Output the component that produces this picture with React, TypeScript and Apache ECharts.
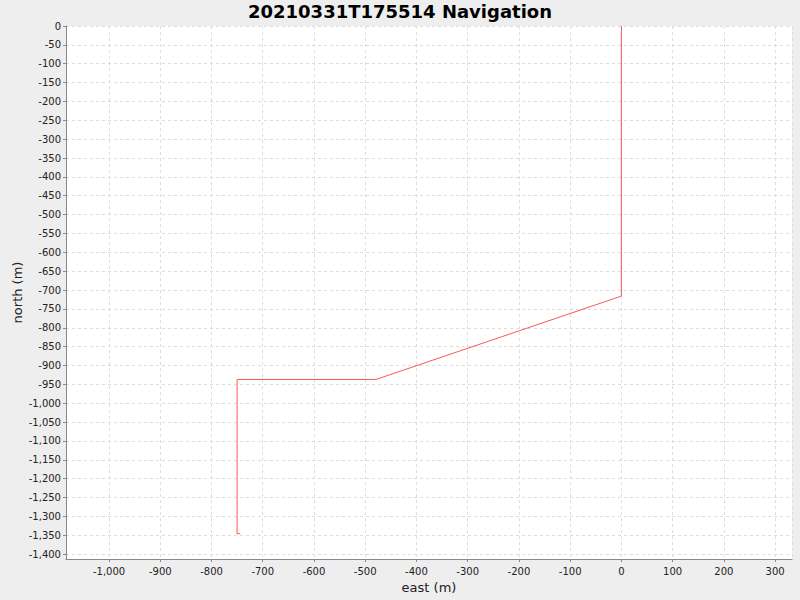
import React, { useEffect, useRef } from "react";
import * as echarts from "echarts";

const titleText = "20210331T175514 Navigation";
const eastValues: number[] = [0, 0, -479, -750, -750, -744];
const northValues: number[] = [0, -716, -937, -937, -1346, -1346];
const xRange = [-1084, 333];
const yRange = [-1413, 0];

const fmt = (v: number) => {
  if (Math.abs(v - Math.round(v)) > 1e-6) return "";
  return Math.round(v).toLocaleString("en-US");
};

export default function App() {
  const ref = useRef<HTMLDivElement>(null);
  useEffect(() => {
    document.body.style.margin = "0";
    const chart = echarts.init(ref.current!, null, { renderer: "svg" });
    const data = eastValues.map((x, i) => [x, northValues[i]]);
    const font = "DejaVu Sans";
    chart.setOption({
      animation: false,
      backgroundColor: "#EEEEEE",
      title: {
        text: titleText,
        left: "center",
        top: 2,
        padding: 0,
        textStyle: { fontFamily: font, fontWeight: "bold", fontSize: 18, color: "#000" },
      },
      grid: {
        left: 66, top: 26, right: 8, bottom: 41, show: true, backgroundColor: "#fff", borderWidth: 0,
        containLabel: false, outerBoundsMode: "none",
      },
      xAxis: {
        type: "value",
        min: xRange[0],
        max: xRange[1],
        minInterval: 100,
        maxInterval: 100,
        splitNumber: 14,
        name: "east (m)",
        nameLocation: "middle",
        nameGap: 20,
        nameTextStyle: { fontFamily: font, fontSize: 13, color: "#222" },
        axisLine: { show: true, onZero: false, lineStyle: { color: "#888", width: 1 } },
        axisTick: { show: true, length: 3, lineStyle: { color: "#888" } },
        axisLabel: {
          fontFamily: font, fontSize: 10, color: "#222", margin: 7,
          showMinLabel: false, showMaxLabel: false,
          formatter: (v: number) => (Math.round(v) % 100 === 0 ? fmt(v) : ""),
        },
        splitLine: { show: true, lineStyle: { color: "#DDDDDD", type: [3, 3], width: 1 } },
      },
      yAxis: {
        type: "value",
        min: yRange[0],
        max: yRange[1],
        minInterval: 50,
        maxInterval: 50,
        splitNumber: 28,
        name: "north (m)",
        nameLocation: "middle",
        nameRotate: 90,
        nameGap: 42,
        nameMoveOverlap: false,
        nameTextStyle: { fontFamily: font, fontSize: 13, color: "#222" },
        axisLine: { show: true, onZero: false, lineStyle: { color: "#888", width: 1 } },
        axisTick: { show: true, length: 3, lineStyle: { color: "#888" } },
        axisLabel: {
          fontFamily: font, fontSize: 10, color: "#222", margin: 5,
          showMinLabel: false,
          formatter: (v: number) => (Math.round(v) % 50 === 0 ? fmt(v) : ""),
        },
        splitLine: { show: true, lineStyle: { color: "#DDDDDD", type: [3, 3], width: 1 } },
      },
      series: [
        {
          type: "line",
          data,
          showSymbol: false,
          symbol: "none",
          lineStyle: { color: "#FF5555", width: 1 },
          itemStyle: { color: "#FF5555" },
        },
      ],
    });
    return () => chart.dispose();
  }, []);
  return <div ref={ref} style={{ width: 800, height: 600 }} />;
}
